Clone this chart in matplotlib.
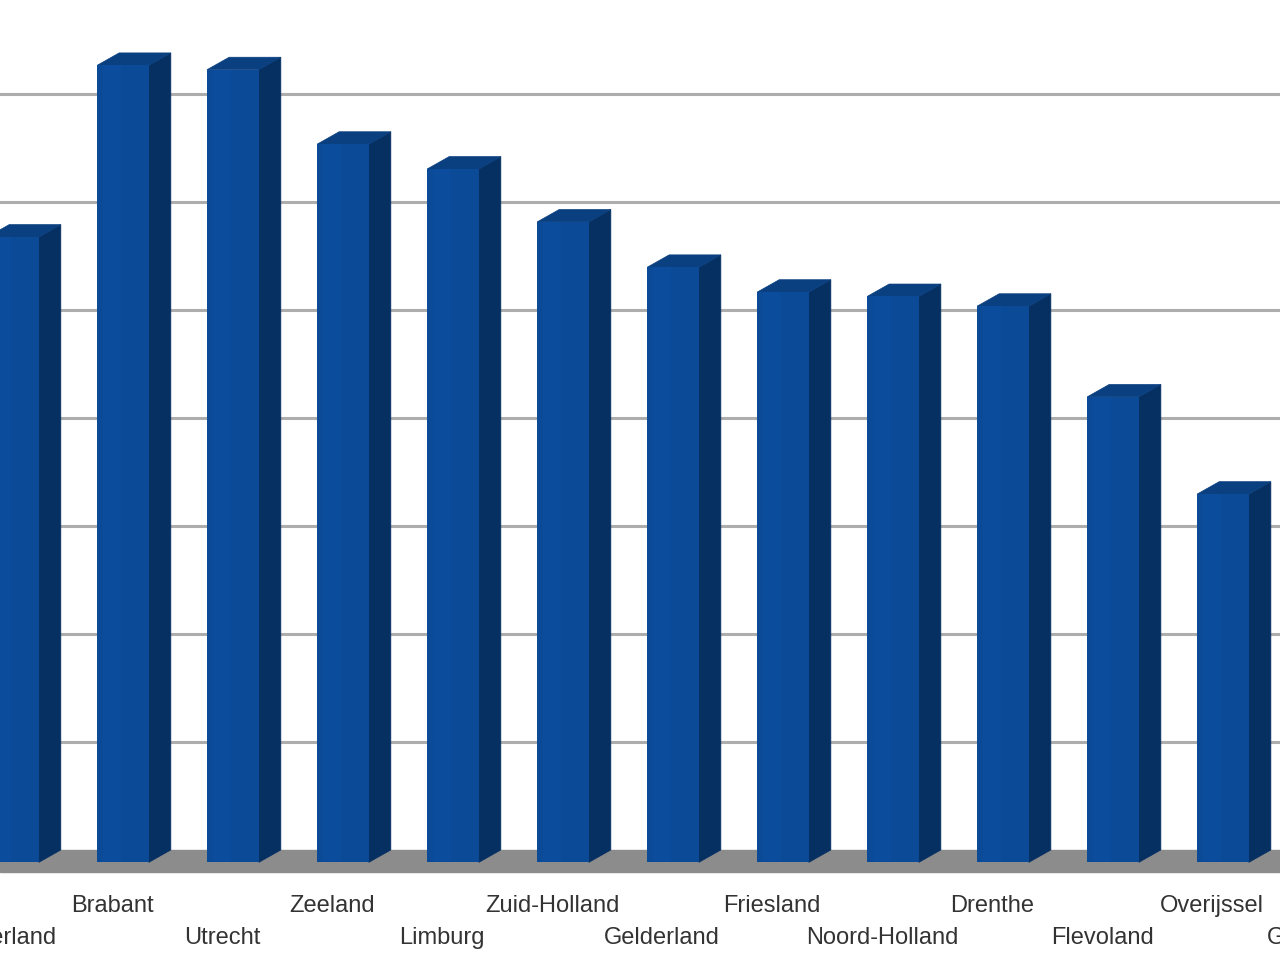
import matplotlib
matplotlib.use("Agg")
import matplotlib.pyplot as plt
from matplotlib.patches import Polygon

provincies = ['Nederland', 'Brabant', 'Utrecht', 'Zeeland', 'Limburg', 'Zuid-Holland',
              'Gelderland', 'Friesland', 'Noord-Holland', 'Drenthe', 'Flevoland',
              'Overijssel', 'Groningen']
waarden = [5.79, 7.38, 7.34, 6.65, 6.42, 5.93, 5.51, 5.28, 5.24, 5.15, 4.31, 3.41, 2.9]
rasterlijnen = [1, 2, 3, 4, 5, 6, 7]

# 3D look: bar width, depth offset (x, y) in data units
breedte = 0.47
dx, dy = 0.2, 0.115

voor = '#0b4a96'
zijkant = '#062f62'
boven = '#0a3f80'

fig = plt.figure(figsize=(12.8, 9.6), dpi=100)
ax = fig.add_axes([0, 0, 1, 1])
ax.set_xlim(-0.118, 11.518)
ax.set_ylim(-1.019, 7.87)
ax.axis('off')

# gridlines on the back wall
for g in rasterlijnen:
    ax.axhline(g, color='#adadad', lw=2.2, zorder=1)

# floor
ax.axhspan(-0.2, 0.0, color='#8c8c8c', zorder=2)

for i, (naam, v) in enumerate(zip(provincies, waarden)):
    xl = i - breedte / 2
    xr = i + breedte / 2
    ax.add_patch(Polygon([(xr, -dy), (xr + dx, 0), (xr + dx, v), (xr, v - dy)],
                         closed=True, fc=zijkant, ec=zijkant, lw=0.5, zorder=3))
    ax.add_patch(Polygon([(xl, v - dy), (xr, v - dy), (xr + dx, v), (xl + dx, v)],
                         closed=True, fc=boven, ec=boven, lw=0.5, zorder=3))
    ax.bar(i, v, bottom=-dy, width=breedte, color=voor, zorder=4)
    ax.bar(i - breedte * 0.22, v, bottom=-dy, width=breedte * 0.35,
           color='#0d55a8', alpha=0.35, lw=0, zorder=5)
    y_lab = -0.52 if i % 2 else -0.815
    ax.text(i - 0.1, y_lab, naam, ha='center', va='center', fontsize=17,
            color='#333333', family='Liberation Sans', zorder=6)

fig.savefig('out.png', dpi=100)
